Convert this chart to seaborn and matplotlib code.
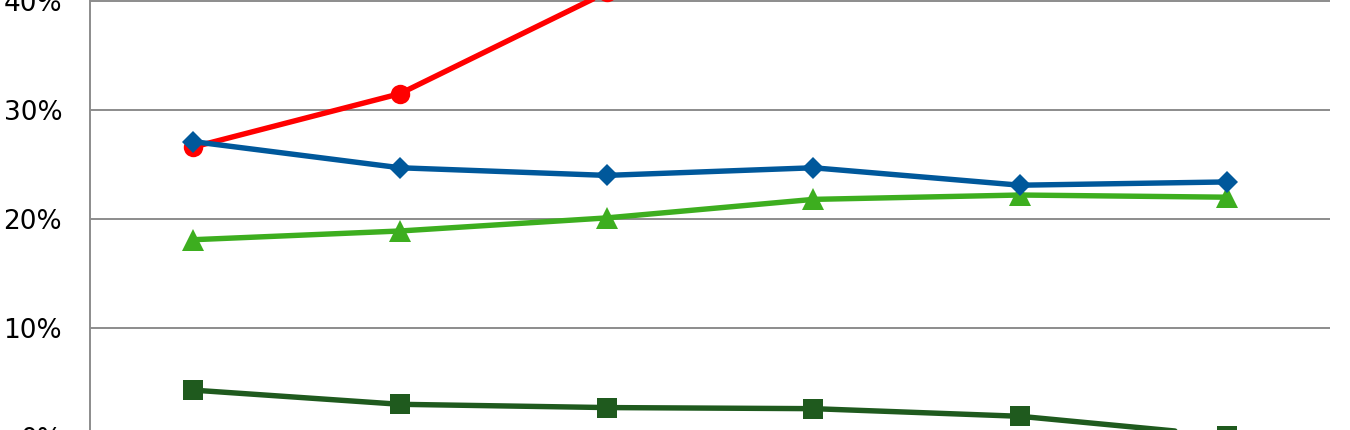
import matplotlib
matplotlib.use("Agg")
import matplotlib.pyplot as plt
import matplotlib.ticker as mticker
import seaborn as sns

# categories along the x axis (their labels sit below the visible area)
periods = ["P1", "P2", "P3", "P4", "P5", "P6"]

# series values, as shares
red_series = [0.266, 0.315, 0.408, 0.47, 0.52, 0.55]
blue_series = [0.271, 0.247, 0.240, 0.247, 0.231, 0.234]
green_series = [0.181, 0.189, 0.201, 0.218, 0.222, 0.220]
darkgreen_series = [0.043, 0.030, 0.027, 0.026, 0.019, 0.001]

y_ticks = [0.0, 0.1, 0.2, 0.3, 0.4, 0.5]

sns.set_theme(style="white")
plt.rcParams["font.family"] = ["DejaVu Sans"]

fig = plt.figure(figsize=(13.5, 4.3), dpi=100)
ax = fig.add_axes([90 / 1350, -7 / 430, 1240 / 1350, 545 / 430])

series = [
    (darkgreen_series, "#1F5A1E", "s", 14),
    (green_series, "#3DAE1F", "^", 16),
    (red_series, "#FF0000", "o", 14),
    (blue_series, "#00589B", "D", 11),
]
for values, color, marker, msize in series:
    sns.lineplot(x=periods, y=values, ax=ax, color=color, marker=marker,
                 markersize=msize, markeredgewidth=0, linewidth=3.9,
                 sort=False)

ax.set_xlim(-0.5, 5.5)
ax.set_ylim(0, 0.5)
ax.set_yticks(y_ticks)
ax.yaxis.set_major_formatter(mticker.PercentFormatter(1.0, decimals=0))
ax.grid(axis="y", color="#8C8C8C", linewidth=1.4)
ax.set_axisbelow(True)
ax.tick_params(axis="y", length=0, pad=20, labelsize=19, labelcolor="black")
# category labels lie below the cropped area, so they are not drawn
ax.tick_params(axis="x", length=0, labelbottom=False)
for side in ["top", "right"]:
    ax.spines[side].set_visible(False)
for side in ["left", "bottom"]:
    ax.spines[side].set_color("#8C8C8C")
    ax.spines[side].set_linewidth(1.4)
ax.set_xlabel(None)
ax.set_ylabel(None)

fig.savefig("out.png", dpi=100)
